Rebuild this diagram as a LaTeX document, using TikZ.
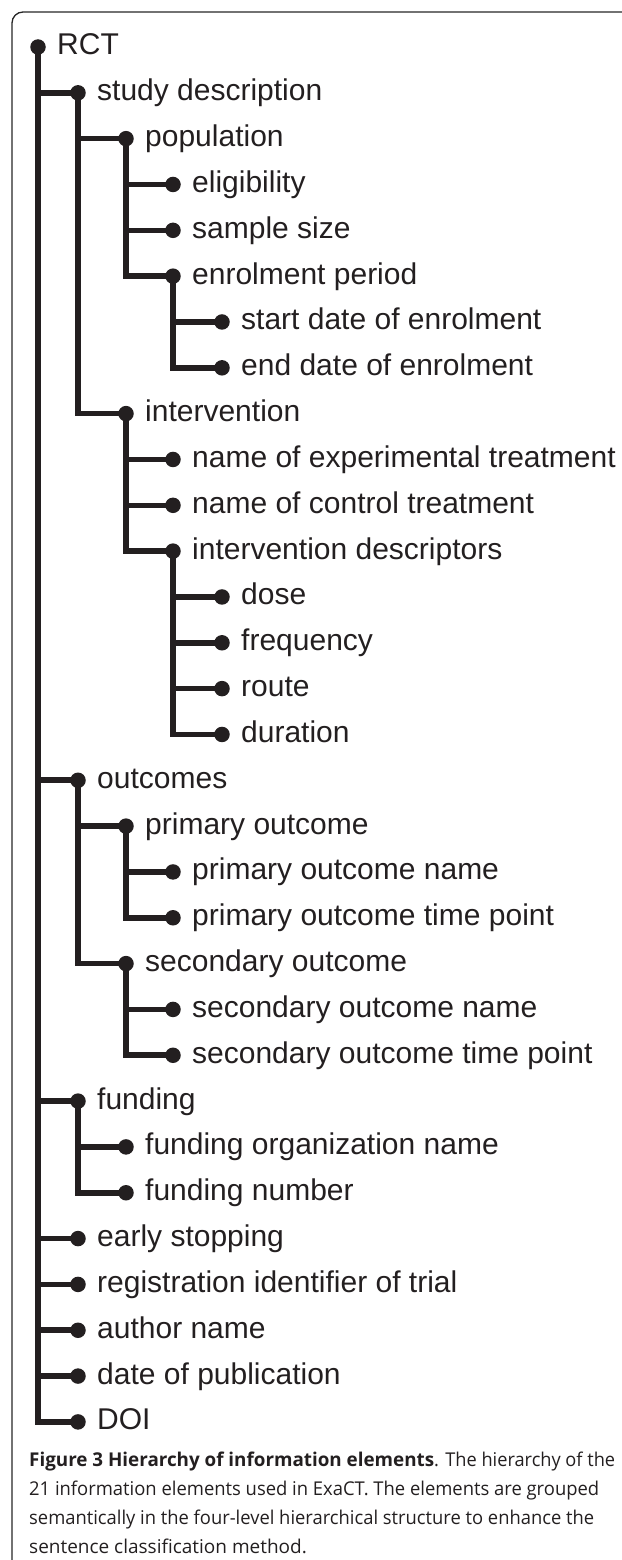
\documentclass[tikz,border=0pt]{standalone}
\usepackage{fontspec}
\setmainfont{Liberation Sans}
\newfontfamily\capfont{Open Sans}
\usetikzlibrary{backgrounds}
\definecolor{ink}{HTML}{231F20}
\tikzset{
  dotnode/.style={circle,fill=ink,inner sep=0pt,minimum size=15.5pt},
  lab/.style={anchor=base west,inner sep=0pt,text=ink,font=\fontsize{30pt}{30pt}\selectfont},
  conn/.style={draw=ink,line width=5.6pt},
  frame/.style={draw=black!85,line width=1.3pt,rounded corners=11pt},
  caplab/.style={anchor=base west,inner sep=0pt,text=ink,font=\capfont\fontsize{19pt}{19pt}\selectfont}
}
\newcommand\fitto[2]{\setbox0=\hbox{#2}\pgfmathsetmacro\fitscale{#1/\wd0}\scalebox{\fitscale}[1]{\box0}}
\newcommand\mkitem[4]{%
  \node[dotnode] (#1) at (#2,{47+#3*45.83}) {};
  \node[lab] (#1-t) at ([xshift=19pt,yshift=-8pt]#1.center) {#4};}
\begin{document}
\begin{tikzpicture}[x=1pt,y=-1pt]
\useasboundingbox (0,0) rectangle (621,1560);
\draw[frame] (640,12) -- (12,12) -- (12,1580);
\mkitem{rct}{38}{0}{RCT}
\mkitem{sd}{78}{1}{study description}
\mkitem{pop}{126}{2}{population}
\mkitem{elig}{173}{3}{eligibility}
\mkitem{ss}{173}{4}{sample size}
\mkitem{ep}{173}{5}{enrolment period}
\mkitem{sde}{222}{6}{start date of enrolment}
\mkitem{ede}{222}{7}{end date of enrolment}
\mkitem{int}{126}{8}{intervention}
\mkitem{net}{173}{9}{name of experimental treatment}
\mkitem{nct}{173}{10}{name of control treatment}
\mkitem{ides}{173}{11}{intervention descriptors}
\mkitem{dose}{222}{12}{dose}
\mkitem{freq}{222}{13}{frequency}
\mkitem{route}{222}{14}{route}
\mkitem{dur}{222}{15}{duration}
\mkitem{out}{78}{16}{outcomes}
\mkitem{po}{126}{17}{primary outcome}
\mkitem{pon}{173}{18}{primary outcome name}
\mkitem{potp}{173}{19}{primary outcome time point}
\mkitem{so}{126}{20}{secondary outcome}
\mkitem{son}{173}{21}{secondary outcome name}
\mkitem{sotp}{173}{22}{secondary outcome time point}
\mkitem{fund}{78}{23}{funding}
\mkitem{fon}{126}{24}{funding organization name}
\mkitem{fnum}{126}{25}{funding number}
\mkitem{es}{78}{26}{early stopping}
\mkitem{rit}{78}{27}{registration identifier of trial}
\mkitem{an}{78}{28}{author name}
\mkitem{dop}{78}{29}{date of publication}
\mkitem{doi}{78}{30}{DOI}
\begin{scope}[on background layer]
\foreach \p/\c in {rct/sd,rct/out,rct/fund,rct/es,rct/rit,rct/an,rct/dop,rct/doi,
  sd/pop,sd/int,pop/elig,pop/ss,pop/ep,ep/sde,ep/ede,
  int/net,int/nct,int/ides,ides/dose,ides/freq,ides/route,ides/dur,
  out/po,out/so,po/pon,po/potp,so/son,so/sotp,fund/fon,fund/fnum}
  \draw[conn] (\p.center) |- (\c.center);
\end{scope}
\node[caplab] (cap1) at (29,1466) {\fitto{405}{\bfseries Figure 3 Hierarchy of information elements}\fitto{181}{. The hierarchy of the}};
\node[caplab] (cap2) at (29,1495) {\fitto{570}{21 information elements used in ExaCT. The elements are grouped}};
\node[caplab] (cap3) at (29,1524) {\fitto{565}{semantically in the four-level hierarchical structure to enhance the}};
\node[caplab] (cap4) at (29,1553) {sentence classification method.};
\end{tikzpicture}
\end{document}
